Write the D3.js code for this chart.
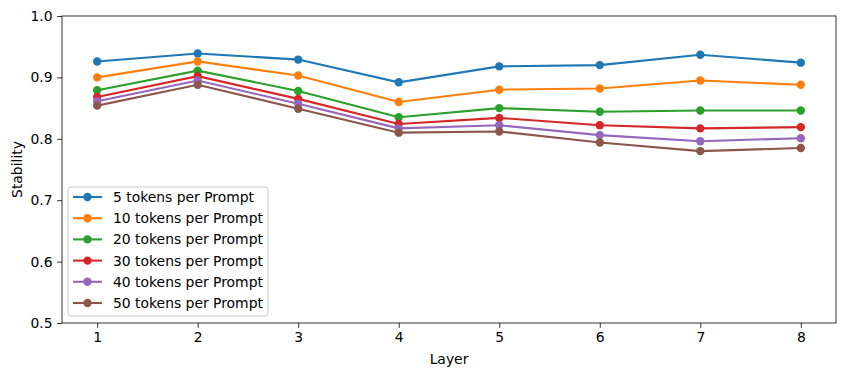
<!DOCTYPE html>
<html>
<head>
<meta charset="utf-8">
<script src="https://cdn.jsdelivr.net/npm/d3@7"></script>
<style>
body { margin: 0; background: #fff; }
svg text { font-family: "DejaVu Sans", sans-serif; fill: #000; }
.axis path, .axis line { stroke: #000; stroke-width: 0.8; }
</style>
</head>
<body>
<script>
var layers = [1, 2, 3, 4, 5, 6, 7, 8];
var seriesNames = ["5 tokens per Prompt", "10 tokens per Prompt", "20 tokens per Prompt",
                   "30 tokens per Prompt", "40 tokens per Prompt", "50 tokens per Prompt"];
var tok5  = [0.926, 0.939, 0.929, 0.892, 0.918, 0.920, 0.937, 0.924];
var tok10 = [0.900, 0.926, 0.903, 0.860, 0.880, 0.882, 0.895, 0.888];
var tok20 = [0.879, 0.911, 0.878, 0.835, 0.850, 0.844, 0.846, 0.846];
var tok30 = [0.868, 0.902, 0.865, 0.824, 0.834, 0.822, 0.817, 0.819];
var tok40 = [0.861, 0.895, 0.857, 0.817, 0.822, 0.806, 0.796, 0.801];
var tok50 = [0.854, 0.888, 0.849, 0.810, 0.812, 0.794, 0.780, 0.785];
var yTicks = [0.5, 0.6, 0.7, 0.8, 0.9, 1.0];
var colors = ["#1f77b4", "#ff7f0e", "#2ca02c", "#d62728", "#9467bd", "#8c564b"];

var allSeries = [tok5, tok10, tok20, tok30, tok40, tok50];

var W = 846, H = 376;
var margin = {top: 16, right: 10, bottom: 53, left: 62};
var width = W - margin.left - margin.right,
    height = H - margin.top - margin.bottom;

var svg = d3.select("body").append("svg")
    .attr("width", W).attr("height", H)
  .append("g")
    .attr("transform", "translate(" + margin.left + "," + margin.top + ")");

var x = d3.scaleLinear().domain([0.65, 8.35]).range([0, width]);
var y = d3.scaleLinear().domain([0.5, 1.0]).range([height, 0]);

// frame
svg.append("rect")
    .attr("width", width).attr("height", height)
    .attr("fill", "none").attr("stroke", "#000").attr("stroke-width", 0.8);

var xAxis = svg.append("g")
    .attr("class", "axis")
    .attr("transform", "translate(0," + height + ")")
    .call(d3.axisBottom(x).tickValues(layers).tickFormat(d3.format("d")).tickSize(4.9).tickPadding(4.5));
xAxis.select(".domain").remove();
xAxis.selectAll("text").style("font-size", "13.9px");

var yAxis = svg.append("g")
    .attr("class", "axis")
    .call(d3.axisLeft(y).tickValues(yTicks).tickFormat(d3.format(".1f")).tickSize(4.9).tickPadding(4.5));
yAxis.select(".domain").remove();
yAxis.selectAll("text").style("font-size", "13.9px");

svg.append("text")
    .attr("x", width / 2).attr("y", height + 41)
    .attr("text-anchor", "middle")
    .style("font-size", "13.9px")
    .text("Layer");

svg.append("text")
    .attr("transform", "rotate(-90)")
    .attr("x", -height / 2).attr("y", -40)
    .attr("text-anchor", "middle")
    .style("font-size", "13.9px")
    .text("Stability");

var line = d3.line()
    .x(function(d, i) { return x(layers[i]); })
    .y(function(d) { return y(d); });

allSeries.forEach(function(vals, k) {
  var g = svg.append("g");
  g.append("path")
      .datum(vals)
      .attr("d", line)
      .attr("fill", "none")
      .attr("stroke", colors[k])
      .attr("stroke-width", 2.1);
  g.selectAll("circle")
      .data(vals)
    .enter().append("circle")
      .attr("cx", function(d, i) { return x(layers[i]); })
      .attr("cy", function(d) { return y(d); })
      .attr("r", 4.2)
      .attr("fill", colors[k]);
});

// legend
var legend = svg.append("g").attr("transform", "translate(6," + (height - 136) + ")");
legend.append("rect")
    .attr("width", 200).attr("height", 129)
    .attr("rx", 3)
    .attr("fill", "#fff").attr("fill-opacity", 0.8)
    .attr("stroke", "#ccc").attr("stroke-width", 1);

var item = legend.selectAll(".item")
    .data(seriesNames)
  .enter().append("g")
    .attr("transform", function(d, i) { return "translate(0," + (10 + i * 21.2) + ")"; });
item.append("line")
    .attr("x1", 5).attr("x2", 34)
    .attr("stroke", function(d, i) { return colors[i]; })
    .attr("stroke-width", 2.1);
item.append("circle")
    .attr("cx", 19.5).attr("r", 4.2)
    .attr("fill", function(d, i) { return colors[i]; });
item.append("text")
    .attr("x", 45).attr("dy", "0.36em")
    .style("font-size", "13.9px")
    .text(function(d) { return d; });
</script>
</body>
</html>
